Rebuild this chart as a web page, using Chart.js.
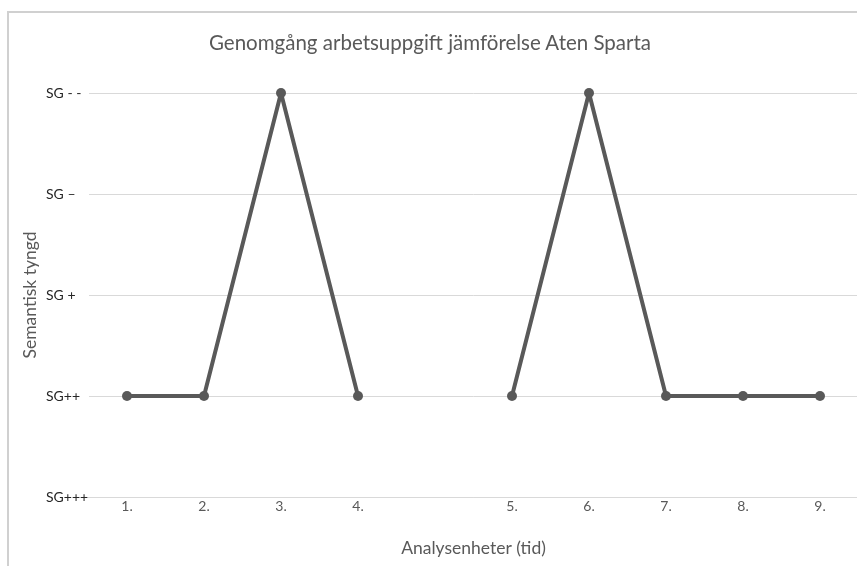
<!DOCTYPE html>
<html>
<head>
<meta charset="utf-8">
<script src="https://cdn.jsdelivr.net/npm/chart.js@4/dist/chart.umd.min.js"></script>
<style>
  html, body { margin: 0; padding: 0; background: #fff; overflow: hidden; }
  body { width: 857px; height: 566px; position: relative; }
  #ram { position: absolute; left: 7px; top: 11px; width: 900px; height: 600px; border: 2px solid #d0d0d0; box-sizing: border-box; }
  #wrap { position: absolute; left: 0; top: 0; width: 880px; height: 566px; }
  #rubrik { position: absolute; left: 0; top: 30px; width: 860px; text-align: center; font-family: Lato, sans-serif; font-size: 20.5px; color: #595959; }
</style>
</head>
<body>
<div id="ram"></div>
<div id="wrap"><canvas id="diagram" width="880" height="566"></canvas></div>
<div id="rubrik">Genomgång arbetsuppgift jämförelse Aten Sparta</div>
<script>
// kategorier (tomt fält mellan 4. och 5.)
var enheter = ["1.", "2.", "3.", "4.", "", "5.", "6.", "7.", "8.", "9."];
// semantisk tyngd, 0 = SG+++ ... 4 = SG - -
var tyngd = [1, 1, 4, 1, null, 1, 4, 1, 1, 1];
// etiketter på y-axeln
var sgEtiketter = ["SG+++", "SG++", "SG +", "SG \u2013", "SG - -"];
var yTitel = "Semantisk tyngd";

var ctx = document.getElementById("diagram");

// y-axelns titel ritas separat, till vänster om vänsterställda etiketter
var yTitelPlugin = {
    id: 'yTitel',
    afterDraw: function(chart) {
        var c = chart.ctx;
        var a = chart.chartArea;
        c.save();
        c.translate(30, (a.top + a.bottom) / 2);
        c.rotate(-Math.PI / 2);
        c.font = "17.5px Lato";
        c.fillStyle = "#595959";
        c.textAlign = "center";
        c.textBaseline = "middle";
        c.fillText(yTitel, 0, 0);
        c.restore();
    }
};

var diagram = new Chart(ctx, {
    type: 'line',
    data: {
        labels: enheter,
        datasets: [{
            label: "Aten Sparta",
            data: tyngd,
            borderColor: "#595959",
            backgroundColor: "#595959",
            borderWidth: 4,
            borderJoinStyle: 'round',
            borderCapStyle: 'round',
            pointRadius: 5,
            pointBorderWidth: 0,
            pointBackgroundColor: "#595959",
            tension: 0,
            spanGaps: false,
            clip: false
        }]
    },
    options: {
        responsive: false,
        animation: false,
        layout: {
            padding: { left: 46, right: 21.5, top: 93, bottom: 0 }
        },
        plugins: {
            legend: { display: false },
            tooltip: { enabled: false },
            title: { display: false }
        },
        scales: {
            x: {
                offset: true,
                grid: { display: false, drawTicks: false },
                border: { display: true, color: "#d9d9d9", width: 1 },
                ticks: {
                    color: "#595959",
                    font: { family: "Lato", size: 14 },
                    padding: 1,
                    maxRotation: 0,
                    autoSkip: false
                },
                title: {
                    display: true,
                    text: "Analysenheter (tid)",
                    color: "#595959",
                    font: { family: "Lato", size: 17.5 },
                    padding: { top: 0, bottom: 7 }
                },
                afterFit: function(scale) { scale.height = 69; }
            },
            y: {
                min: 0,
                max: 4,
                grid: { color: "#d9d9d9", lineWidth: 1, drawTicks: false },
                border: { display: false },
                ticks: {
                    stepSize: 1,
                    crossAlign: 'far',
                    color: "#262626",
                    font: { family: "Lato", size: 14 },
                    callback: function(v) { return sgEtiketter[v]; }
                },
                afterFit: function(scale) { scale.width = 42.5; }
            }
        }
    },
    plugins: [yTitelPlugin]
});
</script>
</body>
</html>
